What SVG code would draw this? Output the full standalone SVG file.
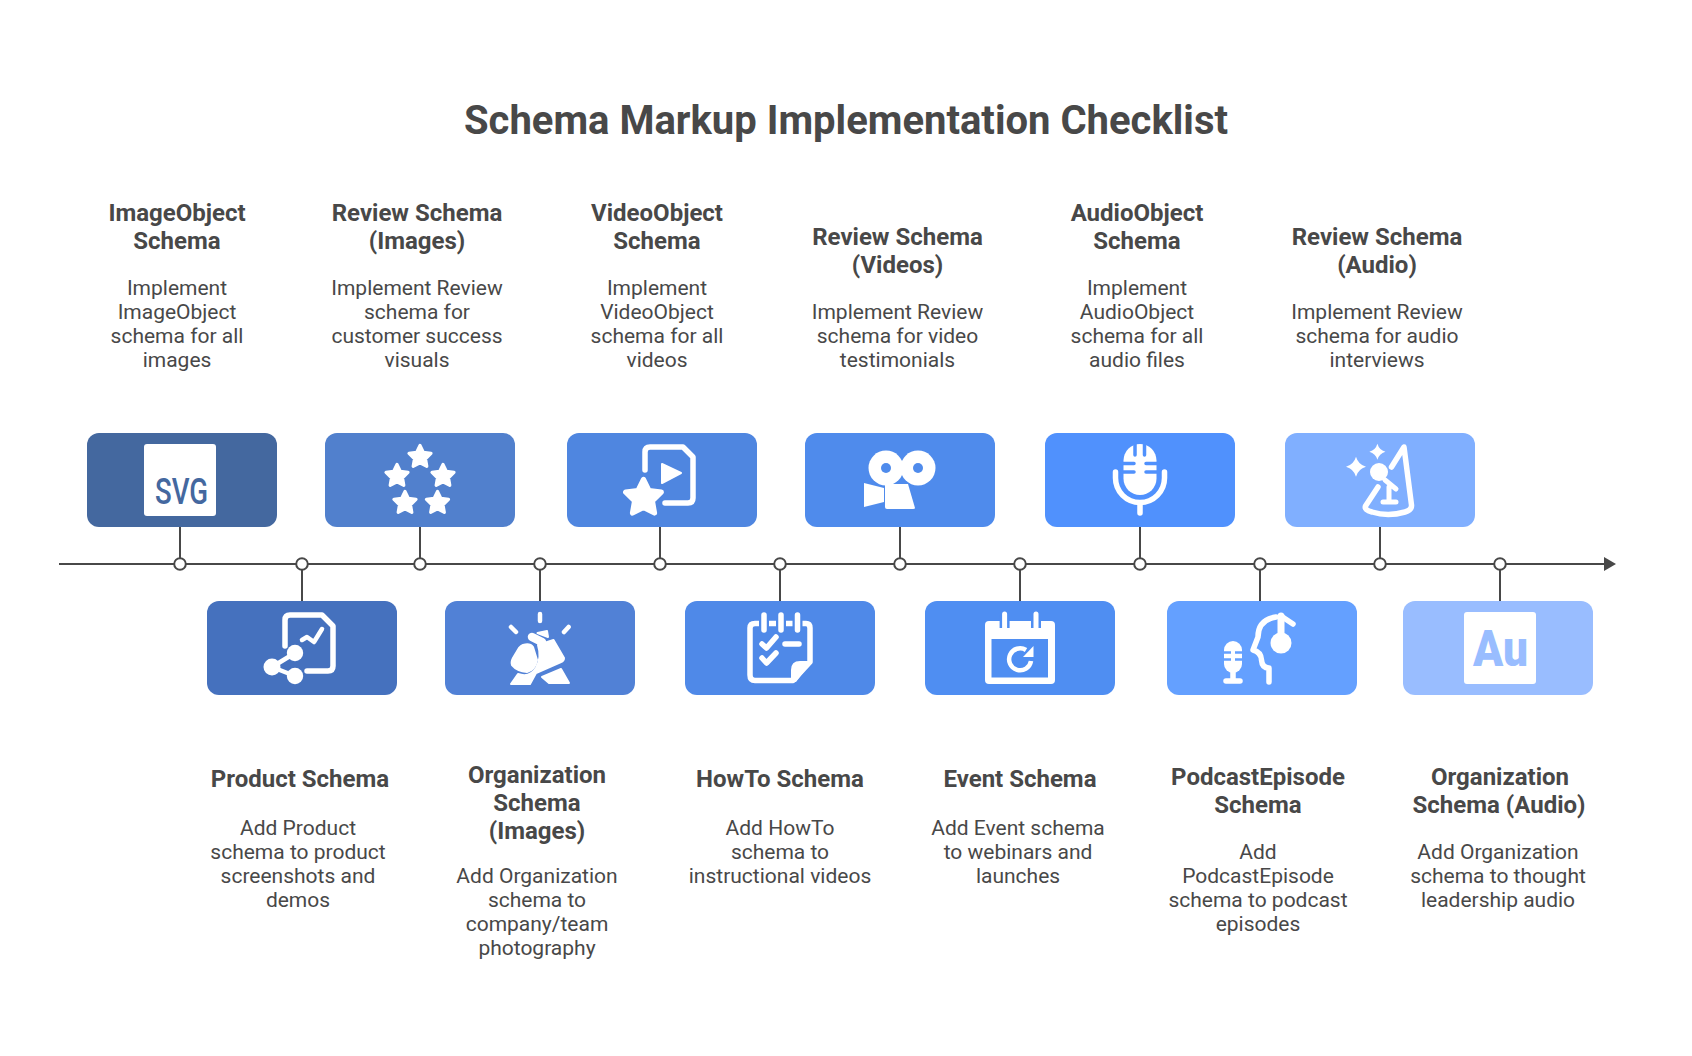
<svg xmlns="http://www.w3.org/2000/svg" xmlns:xlink="http://www.w3.org/1999/xlink" width="1692" height="1056" viewBox="0 0 1692 1056">
<style>
text{font-family:Roboto,"Liberation Sans",sans-serif;fill:#484848;text-anchor:middle}
.h{font-size:40px;font-weight:700}
.t{font-size:24px;font-weight:700}
.d{font-size:21px;font-weight:400}
.s{fill:none;stroke:#fff;stroke-linecap:round;stroke-linejoin:round;stroke-width:5.5}
.f{fill:#fff;stroke:#fff;stroke-linejoin:round;stroke-width:2}
.c{fill:none;stroke:#484848;stroke-width:2}
.n{fill:#fff;stroke:#484848;stroke-width:2}
</style>
<defs>
<marker id="arrow" markerUnits="userSpaceOnUse" markerWidth="12" markerHeight="14" refX="0" refY="7" orient="auto"><path d="M0 0L12 7L0 14Z" fill="#484848"/></marker>
<polygon id="star" fill="#fff" stroke="#fff" stroke-width="3.2" stroke-linejoin="round" points="0,-11.5 3.4,-4.6 11,-3.6 5.5,1.8 6.8,9.3 0,5.8 -6.8,9.3 -5.5,1.8 -11,-3.6 -3.4,-4.6"/>
<path id="spark" fill="#fff" d="M0-10Q2.2-2.2 10 0Q2.2 2.2 0 10Q-2.2 2.2-10 0Q-2.2-2.2 0-10Z"/>
</defs>
<rect width="1692" height="1056" fill="#fff"/>
<text class="h" x="846" y="134">Schema Markup Implementation Checklist</text>
<g id="connectors">
<line class="c" x1="59" y1="564" x2="1604" y2="564" marker-end="url(#arrow)"/>
<path class="c" d="M180 527V564M302 564V601M420 527V564M540 564V601M660 527V564M780 564V601M900 527V564M1020 564V601M1140 527V564M1260 564V601M1380 527V564M1500 564V601"/>
<circle class="n" cx="180" cy="564" r="5.8"/><circle class="n" cx="302" cy="564" r="5.8"/><circle class="n" cx="420" cy="564" r="5.8"/><circle class="n" cx="540" cy="564" r="5.8"/><circle class="n" cx="660" cy="564" r="5.8"/><circle class="n" cx="780" cy="564" r="5.8"/><circle class="n" cx="900" cy="564" r="5.8"/><circle class="n" cx="1020" cy="564" r="5.8"/><circle class="n" cx="1140" cy="564" r="5.8"/><circle class="n" cx="1260" cy="564" r="5.8"/><circle class="n" cx="1380" cy="564" r="5.8"/><circle class="n" cx="1500" cy="564" r="5.8"/>
</g>
<g id="node-imageobject">
<rect x="87" y="433" width="190" height="94" rx="12" fill="#44689F"/>
<rect x="144" y="444" width="72" height="72" rx="3" fill="#fff"/>
<text x="181.5" y="504" font-size="37" font-weight="500" textLength="53" lengthAdjust="spacingAndGlyphs" style="fill:#44689F">SVG</text>
<text class="t" x="177" y="221">ImageObject</text><text class="t" x="177" y="249">Schema</text>
<text class="d" x="177" y="295">Implement</text><text class="d" x="177" y="319">ImageObject</text><text class="d" x="177" y="343">schema for all</text><text class="d" x="177" y="367">images</text>
</g>
<g id="node-product">
<rect x="207" y="601" width="190" height="94" rx="12" fill="#4571BE"/>
<path class="s" d="M285 646V620Q285 615 290 615H322L333 626V666Q333 671 328 671H307"/>
<path class="s" style="stroke-width:4.5" d="M302 640L307 637L314 642L322 629"/>
<circle cx="295" cy="653" r="8.2" fill="#fff"/><circle cx="272" cy="667" r="8.5" fill="#fff"/><circle cx="295" cy="676" r="8.2" fill="#fff"/>
<path class="s" style="stroke-width:4.5" d="M295 653L272 667L295 676"/>
<text class="t" x="300" y="787">Product Schema</text>
<text class="d" x="298" y="835">Add Product</text><text class="d" x="298" y="859">schema to product</text><text class="d" x="298" y="883">screenshots and</text><text class="d" x="298" y="907">demos</text>
</g>
<g id="node-review-images">
<rect x="325" y="433" width="190" height="94" rx="12" fill="#5180CD"/>
<use href="#star" x="420" y="457"/><use href="#star" x="397" y="476"/><use href="#star" x="443" y="476"/><use href="#star" x="405" y="503"/><use href="#star" x="437.5" y="503"/>
<text class="t" x="417" y="221">Review Schema</text><text class="t" x="417" y="249">(Images)</text>
<text class="d" x="417" y="295">Implement Review</text><text class="d" x="417" y="319">schema for</text><text class="d" x="417" y="343">customer success</text><text class="d" x="417" y="367">visuals</text>
</g>
<g id="node-organization-images">
<rect x="445" y="601" width="190" height="94" rx="12" fill="#5181D6"/>
<path class="s" style="stroke-width:4.5" d="M540 614V621M511 627L516 632M568.6 627L564 632"/>
<path class="f" d="M537.5 633L547 631L548 637Z"/>
<path class="s" style="stroke-width:8.5" d="M532 637L542 642"/>
<path class="f" d="M523 645Q530 643 533 647L537 660Q535 670 527 672Q517 671 512 665Q511 662 513 658L519 648Q521 646 523 645Z"/>
<path class="f" d="M538 645L553.5 640L564 658Q564 661 561 662L536 673L530 684H511L518 674Q530 678 536 668Q542 658 538 645Z"/>
<path class="f" d="M542 677L561 669L569 683H549Z"/>
<text class="t" x="537" y="783">Organization</text><text class="t" x="537" y="811">Schema</text><text class="t" x="537" y="839">(Images)</text>
<text class="d" x="537" y="883">Add Organization</text><text class="d" x="537" y="907">schema to</text><text class="d" x="537" y="931">company/team</text><text class="d" x="537" y="955">photography</text>
</g>
<g id="node-videoobject">
<rect x="567" y="433" width="190" height="94" rx="12" fill="#4F86E0"/>
<path class="s" d="M645 470V452Q645 447 650 447H683L693 457V498Q693 503 688 503H665"/>
<path class="f" stroke-width="3" d="M662 464L681 473L662 483Z"/>
<use href="#star" transform="translate(643.5 498) scale(1.62)"/>
<text class="t" x="657" y="221">VideoObject</text><text class="t" x="657" y="249">Schema</text>
<text class="d" x="657" y="295">Implement</text><text class="d" x="657" y="319">VideoObject</text><text class="d" x="657" y="343">schema for all</text><text class="d" x="657" y="367">videos</text>
</g>
<g id="node-howto">
<rect x="685" y="601" width="190" height="94" rx="12" fill="#4F89E8"/>
<path class="s" d="M755 623.5Q750 623.5 750 628V675Q750 680.5 755 680.5H793L810 662V628Q810 623.5 806 623.5Z"/>
<path d="M791 682V670Q791 661 800 661H812L796 682Z" fill="#fff"/>
<path d="M764 616V629M781 616V629M797.5 616V629" fill="none" stroke="#4F89E8" stroke-width="10"/>
<path class="s" d="M764 615V630M781 615V630M797.5 615V630"/>
<path class="s" d="M762 644L766.5 648L776 637M762 658L766.5 663L776 653"/>
<path class="s" d="M785 644H799"/>
<text class="t" x="780" y="787">HowTo Schema</text>
<text class="d" x="780" y="835">Add HowTo</text><text class="d" x="780" y="859">schema to</text><text class="d" x="780" y="883">instructional videos</text>
</g>
<g id="node-review-videos">
<rect x="805" y="433" width="190" height="94" rx="12" fill="#4F8BEC"/>
<circle cx="886" cy="468" r="17.5" fill="#fff"/><circle cx="918" cy="468" r="17.5" fill="#fff"/>
<circle cx="886" cy="468" r="5" fill="#4F8BEC"/><circle cx="918" cy="468" r="5" fill="#4F8BEC"/>
<path fill="#fff" d="M885 484H908L915 508Q915 509 913 509H887Q885 509 885 507Z"/>
<path fill="#fff" d="M864 483L884 488V502L864 507Z"/>
<text class="t" x="897.5" y="245">Review Schema</text><text class="t" x="897.5" y="273">(Videos)</text>
<text class="d" x="897.5" y="319">Implement Review</text><text class="d" x="897.5" y="343">schema for video</text><text class="d" x="897.5" y="367">testimonials</text>
</g>
<g id="node-event">
<rect x="925" y="601" width="190" height="94" rx="12" fill="#4F8EF2"/>
<rect x="985" y="621" width="70" height="63" rx="4" fill="#fff"/>
<rect x="991.5" y="639" width="56.5" height="38.5" fill="#4F8EF2"/>
<path d="M1004.6 615V628M1036 615V628" fill="none" stroke="#4F8EF2" stroke-width="10"/>
<path class="s" style="stroke-width:5" d="M1004.6 614V629M1036 614V629"/>
<path class="s" style="stroke-width:4.5;stroke-linecap:butt" d="M1031 661A11 11 0 1 1 1026 650"/>
<path fill="#fff" d="M1033.5 646V657H1023Z"/>
<text class="t" x="1020" y="787">Event Schema</text>
<text class="d" x="1018" y="835">Add Event schema</text><text class="d" x="1018" y="859">to webinars and</text><text class="d" x="1018" y="883">launches</text>
</g>
<g id="node-audioobject">
<rect x="1045" y="433" width="190" height="94" rx="12" fill="#5091FD"/>
<rect x="1123.5" y="444" width="33" height="51" rx="16.5" fill="#fff"/>
<path d="M1135 442V455M1144.5 442V455M1122 463.5H1134M1146 463.5H1158M1122 472H1134M1146 472H1158" fill="none" stroke="#5091FD" stroke-width="3.5" stroke-linecap="round"/>
<path class="s" d="M1115.5 472V478A24.5 24.5 0 0 0 1164.5 478V472M1140 503V513"/>
<text class="t" x="1137" y="221">AudioObject</text><text class="t" x="1137" y="249">Schema</text>
<text class="d" x="1137" y="295">Implement</text><text class="d" x="1137" y="319">AudioObject</text><text class="d" x="1137" y="343">schema for all</text><text class="d" x="1137" y="367">audio files</text>
</g>
<g id="node-podcastepisode">
<rect x="1167" y="601" width="190" height="94" rx="12" fill="#64A0FF"/>
<rect x="1224" y="641" width="18" height="32" rx="9" fill="#fff"/>
<path d="M1223 652.5H1231M1235 652.5H1243M1223 659.5H1231M1235 659.5H1243" fill="none" stroke="#64A0FF" stroke-width="2.5"/>
<path class="s" d="M1233 672V681M1226 681H1240"/>
<path class="s" d="M1269 682V668Q1262 668 1261.5 660Q1261 652 1253 650L1258 637Q1258 620 1276 617"/>
<path class="s" style="stroke-width:7" d="M1281 616V640"/>
<path class="s" d="M1281 616L1293 624"/>
<circle cx="1281" cy="643" r="10.5" fill="#fff"/>
<text class="t" x="1258" y="785">PodcastEpisode</text><text class="t" x="1258" y="813">Schema</text>
<text class="d" x="1258" y="859">Add</text><text class="d" x="1258" y="883">PodcastEpisode</text><text class="d" x="1258" y="907">schema to podcast</text><text class="d" x="1258" y="931">episodes</text>
</g>
<g id="node-review-audio">
<rect x="1285" y="433" width="190" height="94" rx="12" fill="#80AFFF"/>
<use href="#spark" x="1356" y="466.7"/>
<use href="#spark" transform="translate(1377.4 451.7) scale(.8)"/>
<circle cx="1379" cy="472" r="9" fill="#fff"/>
<path class="s" style="stroke-width:5" d="M1385 480L1396 489M1389 487V502M1383 502H1396"/>
<path class="s" d="M1378 487L1365.5 506Q1364 510 1372 512Q1388 517 1405 512Q1412 510 1411.5 505L1404 447L1391.5 467"/>
<text class="t" x="1377" y="245">Review Schema</text><text class="t" x="1377" y="273">(Audio)</text>
<text class="d" x="1377" y="319">Implement Review</text><text class="d" x="1377" y="343">schema for audio</text><text class="d" x="1377" y="367">interviews</text>
</g>
<g id="node-organization-audio">
<rect x="1403" y="601" width="190" height="94" rx="12" fill="#99BDFF"/>
<rect x="1464" y="612" width="72" height="72" rx="3" fill="#fff"/>
<text x="1500.5" y="666" font-size="50" font-weight="900" textLength="55" lengthAdjust="spacingAndGlyphs" style="fill:#99BDFF">Au</text>
<text class="t" x="1500" y="785">Organization</text><text class="t" x="1499" y="813">Schema (Audio)</text>
<text class="d" x="1498" y="859">Add Organization</text><text class="d" x="1498" y="883">schema to thought</text><text class="d" x="1498" y="907">leadership audio</text>
</g>
</svg>
